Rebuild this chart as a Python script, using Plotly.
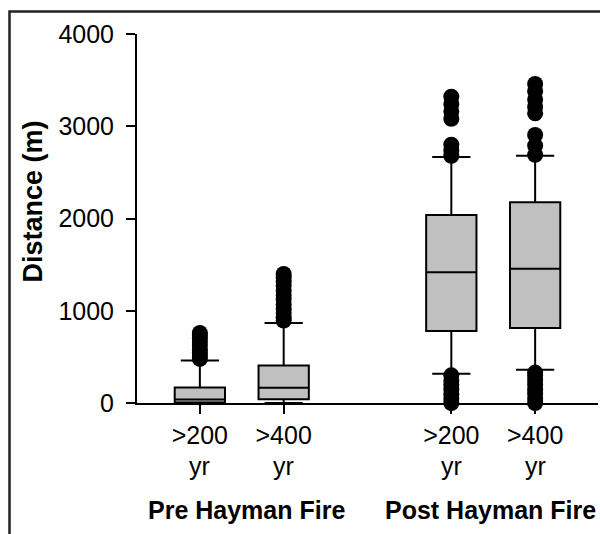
import plotly.graph_objects as go

# ---- data ----
positions = [1, 2, 4, 5]
tick_labels = [">200", ">400", ">200", ">400"]
sub_labels = ["yr", "yr", "yr", "yr"]
group_labels = ["Pre Hayman Fire", "Post Hayman Fire"]

q1 = [5, 40, 780, 813]
median = [38, 166, 1417, 1456]
q3 = [168, 407, 2038, 2176]
lower_fence = [0, 0, 318, 361]
upper_fence = [462, 866, 2667, 2681]

outliers_pre200 = [478, 510, 545, 580, 620, 660, 700, 730, 760]
outliers_pre400 = [893, 930, 975, 1020, 1070, 1120, 1170, 1220, 1270, 1320, 1360, 1398]
outliers_post200 = [0, 45, 95, 145, 195, 245, 300,
                    2680, 2740, 2800, 3080, 3160, 3240, 3320]
outliers_post400 = [0, 50, 100, 150, 200, 250, 295, 330,
                    2690, 2790, 2905, 3140, 3210, 3290, 3380, 3458]

y_ticks = [0, 1000, 2000, 3000, 4000]

FONT = "Liberation Sans, Arial, sans-serif"
FS = 25

fig = go.Figure()

fig.add_trace(go.Box(
    x=positions, q1=q1, median=median, q3=q3,
    lowerfence=lower_fence, upperfence=upper_fence,
    width=0.6, whiskerwidth=0.76,
    fillcolor="#c0c0c0",
    line=dict(color="black", width=2),
    boxpoints=False, showlegend=False, hoverinfo="skip",
))

out_x = []
out_y = []
for pos, vals in zip(positions, [outliers_pre200, outliers_pre400,
                                 outliers_post200, outliers_post400]):
    out_x += [pos] * len(vals)
    out_y += vals

fig.add_trace(go.Scatter(
    x=out_x, y=out_y, mode="markers",
    marker=dict(color="black", size=16, line=dict(width=0)),
    cliponaxis=False, showlegend=False, hoverinfo="skip",
))

L, R, T, B = 137, 2, 34, 131
W, H = 600, 534
pw = W - L - R
ph = H - T - B

def px_x(px):
    return (px - L) / pw

def px_y(py):
    return (H - B - py) / ph

annotations = []
for lab, pos in zip(sub_labels, positions):
    annotations.append(dict(
        text=lab, x=pos, xref="x", y=px_y(466), yref="paper",
        showarrow=False, xanchor="center", yanchor="middle",
        font=dict(family=FONT, size=FS, color="black"),
    ))
for lab, cpx in zip(group_labels, [246.5, 490]):
    annotations.append(dict(
        text="<b>%s</b>" % lab, x=px_x(cpx), xref="paper", y=px_y(510), yref="paper",
        showarrow=False, xanchor="center", yanchor="middle",
        font=dict(family=FONT, size=FS, color="black"),
    ))
annotations.append(dict(
    text="<b>Distance (m)</b>", x=px_x(32.5), xref="paper", y=px_y(202), yref="paper",
    showarrow=False, xanchor="center", yanchor="middle", textangle=-90,
    font=dict(family=FONT, size=27, color="black"),
))

fig.update_layout(
    width=W, height=H,
    margin=dict(l=L, r=R, t=T, b=B, pad=0),
    paper_bgcolor="white", plot_bgcolor="white",
    font=dict(family=FONT, size=FS, color="black"),
    annotations=annotations,
    shapes=[dict(
        type="rect", xref="paper", yref="paper",
        x0=px_x(9.5), x1=px_x(640), y0=px_y(600), y1=px_y(11.5),
        line=dict(color="#222222", width=2.5), fillcolor="rgba(0,0,0,0)",
        layer="below",
    )],
    xaxis=dict(
        range=[0.25, 5.75], tickvals=positions, ticktext=tick_labels,
        showgrid=False, zeroline=False, showline=True, linecolor="black", linewidth=2,
        ticks="outside", ticklen=9, tickwidth=2, tickcolor="black",
        tickfont=dict(family=FONT, size=FS, color="black"),
    ),
    yaxis=dict(
        range=[0, 4000], tickvals=y_ticks,
        showgrid=False, zeroline=False, showline=True, linecolor="black", linewidth=2,
        ticks="outside", ticklen=9, tickwidth=2, tickcolor="black",
        ticklabelstandoff=7,
        tickfont=dict(family=FONT, size=FS, color="black"),
    ),
)

fig.write_html(
    "out.html",
    config={"displayModeBar": False},
    post_script="document.body.style.margin='0';document.body.style.overflow='hidden';",
)
